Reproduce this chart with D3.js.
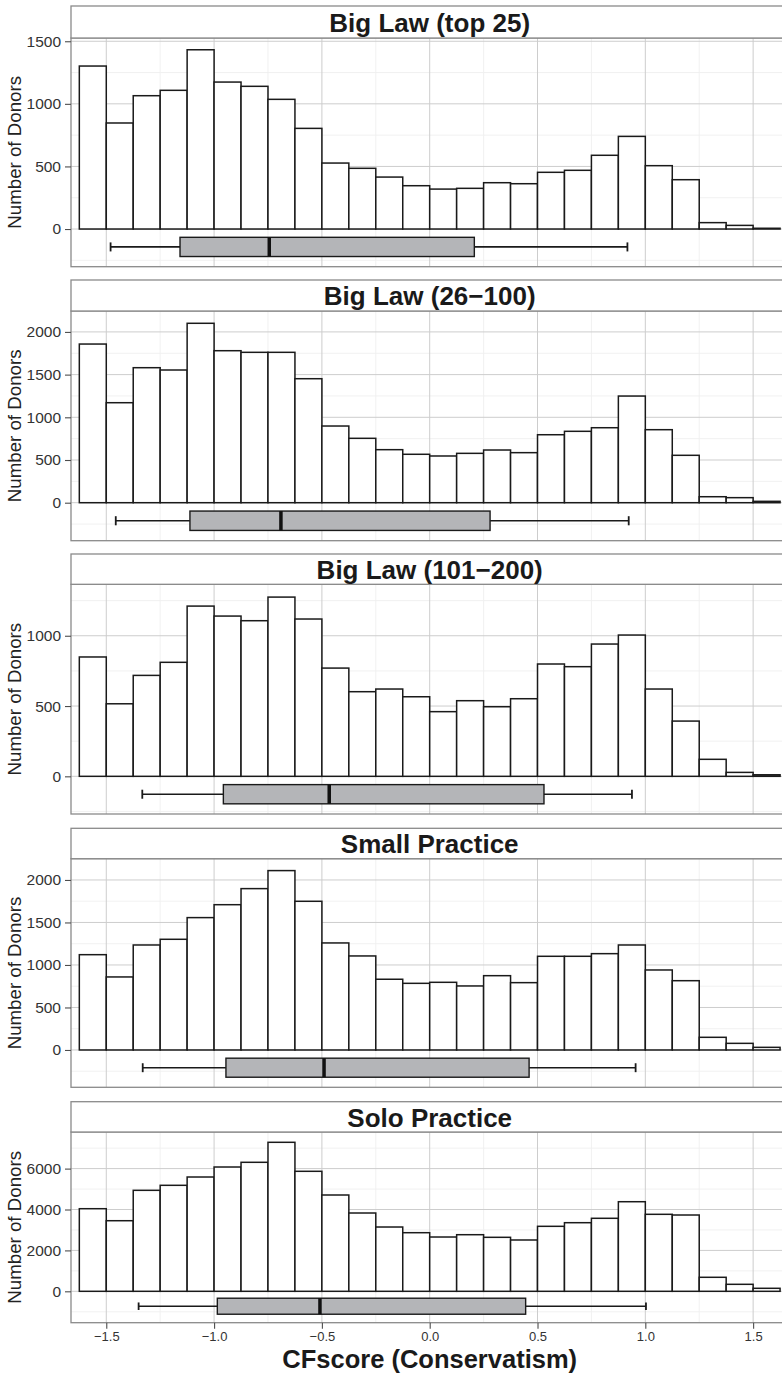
<!DOCTYPE html>
<html lang="en">
<head>
<meta charset="utf-8">
<title>CFscore by firm type</title>
<style>
  body { margin: 0; background: #fff; }
  svg { display: block; font-family: "Liberation Sans", Arial, Helvetica, sans-serif; }
</style>
</head>
<body>
<svg id="chart" width="782" height="1374"></svg>
<script src="https://d3js.org/d3.v7.min.js"></script>
<script>
// bins are 0.125 wide, starting at -1.625
const binStart = -1.625;
const binWidth = 0.125;

const panelNames = ["Big Law (top 25)", "Big Law (26\u2212100)", "Big Law (101\u2212200)", "Small Practice", "Solo Practice"];

const countsTop25 = [1302, 847, 1065, 1108, 1432, 1174, 1140, 1036, 804, 527, 485, 415, 346,
                     319, 325, 370, 362, 453, 469, 589, 740, 506, 394, 51, 29, 6];
const counts26to100 = [1858, 1171, 1581, 1554, 2101, 1780, 1761, 1761, 1452, 898, 754, 621, 567,
                       547, 578, 617, 586, 796, 836, 878, 1249, 855, 555, 70, 59, 16];
const counts101to200 = [849, 516, 718, 811, 1211, 1140, 1107, 1275, 1119, 770, 602, 621, 566,
                        460, 538, 495, 552, 799, 780, 941, 1005, 621, 393, 121, 28, 11];
const countsSmall = [1121, 859, 1235, 1302, 1557, 1709, 1898, 2110, 1749, 1259, 1106, 832, 784,
                     796, 753, 874, 792, 1102, 1102, 1133, 1235, 941, 815, 149, 78, 31];
const countsSolo = [4039, 3452, 4938, 5183, 5589, 6078, 6308, 7286, 5868, 4709, 3829, 3144, 2866,
                    2655, 2768, 2640, 2509, 3178, 3355, 3570, 4381, 3765, 3731, 685, 342, 147];

// boxplot stats: [whisker low, q1, median, q3, whisker high]
const boxTop25 = [-1.48, -1.158, -0.744, 0.207, 0.917];
const box26to100 = [-1.456, -1.112, -0.690, 0.280, 0.923];
const box101to200 = [-1.333, -0.957, -0.466, 0.530, 0.938];
const boxSmall = [-1.331, -0.945, -0.490, 0.461, 0.955];
const boxSolo = [-1.350, -0.985, -0.509, 0.445, 1.003];

// y domains per panel (low end holds the boxplot)
const yDomains = [[-301, 1526], [-445, 2245], [-268, 1366], [-439, 2250], [-1535, 7790]];
const yMajor = [[0, 500, 1000, 1500], [0, 500, 1000, 1500, 2000], [0, 500, 1000],
                [0, 500, 1000, 1500, 2000], [0, 2000, 4000, 6000]];
const yMinor = [[-250, 250, 750, 1250], [-250, 250, 750, 1250, 1750], [-250, 250, 750, 1250],
                [-250, 250, 750, 1250, 1750], [-1000, 1000, 3000, 5000, 7000]];

const xMajor = [-1.5, -1.0, -0.5, 0.0, 0.5, 1.0, 1.5];
const xMinor = [-1.25, -0.75, -0.25, 0.25, 0.75, 1.25];
const xTickLabels = ["\u22121.5", "\u22121.0", "\u22120.5", "0.0", "0.5", "1.0", "1.5"];

const allCounts = [countsTop25, counts26to100, counts101to200, countsSmall, countsSolo];
const allBoxes = [boxTop25, box26to100, box101to200, boxSmall, boxSolo];

// layout: [strip top, panel top, panel bottom]
const layout = [[6, 38, 266.7], [280, 311, 540.7], [554, 584.3, 814],
                [828.3, 858.7, 1087.3], [1101.7, 1132, 1322.7]];

const svg = d3.select("#chart");
const left = 71, right = 788.4;
const x = d3.scaleLinear().domain([-1.6636, 1.6636]).range([left, right]);

const borderCol = "#8a8a8a";

allCounts.forEach((counts, p) => {
  const [stripTop, top, bottom] = layout[p];
  const y = d3.scaleLinear().domain(yDomains[p]).range([bottom, top]);
  const g = svg.append("g");

  // grid
  g.selectAll(".ymin").data(yMinor[p].filter(v => y(v) > top && y(v) < bottom)).enter()
    .append("line").attr("x1", left).attr("x2", right)
    .attr("y1", d => y(d)).attr("y2", d => y(d))
    .attr("stroke", "#efefef").attr("stroke-width", 0.9);
  g.selectAll(".xmin").data(xMinor).enter()
    .append("line").attr("x1", d => x(d)).attr("x2", d => x(d))
    .attr("y1", top).attr("y2", bottom)
    .attr("stroke", "#efefef").attr("stroke-width", 0.9);
  g.selectAll(".ymaj").data(yMajor[p]).enter()
    .append("line").attr("x1", left).attr("x2", right)
    .attr("y1", d => y(d)).attr("y2", d => y(d))
    .attr("stroke", "#cdcdcd").attr("stroke-width", 1);
  g.selectAll(".xmaj").data(xMajor).enter()
    .append("line").attr("x1", d => x(d)).attr("x2", d => x(d))
    .attr("y1", top).attr("y2", bottom)
    .attr("stroke", "#cdcdcd").attr("stroke-width", 1);

  // histogram bars
  g.selectAll(".bar").data(counts).enter()
    .append("rect")
    .attr("x", (d, i) => x(binStart + i * binWidth))
    .attr("width", x(binWidth) - x(0))
    .attr("y", d => y(d))
    .attr("height", d => y(0) - y(d))
    .attr("fill", "#fff")
    .attr("stroke", "#1a1a1a")
    .attr("stroke-width", 1.5);

  // boxplot
  const b = allBoxes[p];
  const lo = yDomains[p][0];
  const bc = lo * 0.475, bh = -lo * 0.255, cap = bh * 0.47;
  g.append("line").attr("x1", x(b[0])).attr("x2", x(b[1]))
    .attr("y1", y(bc)).attr("y2", y(bc)).attr("stroke", "#1a1a1a").attr("stroke-width", 1.6);
  g.append("line").attr("x1", x(b[3])).attr("x2", x(b[4]))
    .attr("y1", y(bc)).attr("y2", y(bc)).attr("stroke", "#1a1a1a").attr("stroke-width", 1.6);
  [b[0], b[4]].forEach(v => {
    g.append("line").attr("x1", x(v)).attr("x2", x(v))
      .attr("y1", y(bc + cap)).attr("y2", y(bc - cap))
      .attr("stroke", "#1a1a1a").attr("stroke-width", 1.8);
  });
  g.append("rect").attr("x", x(b[1])).attr("width", x(b[3]) - x(b[1]))
    .attr("y", y(bc + bh)).attr("height", y(bc - bh) - y(bc + bh))
    .attr("fill", "#b4b5b8").attr("stroke", "#1a1a1a").attr("stroke-width", 1.4);
  g.append("line").attr("x1", x(b[2])).attr("x2", x(b[2]))
    .attr("y1", y(bc + bh)).attr("y2", y(bc - bh))
    .attr("stroke", "#111").attr("stroke-width", 3.5);

  // panel border + strip
  g.append("rect").attr("x", left).attr("y", top).attr("width", right - left).attr("height", bottom - top)
    .attr("fill", "none").attr("stroke", borderCol).attr("stroke-width", 1.3);
  g.append("rect").attr("x", left).attr("y", stripTop).attr("width", right - left).attr("height", top - stripTop)
    .attr("fill", "#fff").attr("stroke", borderCol).attr("stroke-width", 1.3);
  g.append("text").attr("x", x(0)).attr("y", (stripTop + top) / 2 + 9.8)
    .attr("text-anchor", "middle").attr("font-size", 26).attr("font-weight", "bold")
    .attr("fill", "#1a1a1a").text(panelNames[p]);

  // y axis
  const yAxis = d3.axisLeft(y).tickValues(yMajor[p]).tickSize(6).tickPadding(4).tickFormat(d3.format("d"));
  const ya = g.append("g").attr("transform", `translate(${left},0)`).call(yAxis);
  ya.select(".domain").remove();
  ya.selectAll("line").attr("stroke", "#4d4d4d").attr("stroke-width", 1.1);
  ya.selectAll("text").attr("font-size", 15.5).attr("fill", "#333")
    .attr("font-family", "\"Liberation Sans\", Arial, sans-serif");

  g.append("text")
    .attr("transform", `translate(20.5,${(top + bottom) / 2}) rotate(-90)`)
    .attr("text-anchor", "middle").attr("font-size", 18.7).attr("fill", "#222")
    .text("Number of Donors");

  if (p === allCounts.length - 1) {
    const xAxis = d3.axisBottom(x).tickValues(xMajor).tickSize(6).tickPadding(3)
      .tickFormat((d, i) => xTickLabels[i]);
    const xa = g.append("g").attr("transform", `translate(0,${bottom})`).call(xAxis);
    xa.select(".domain").remove();
    xa.selectAll("line").attr("stroke", "#4d4d4d").attr("stroke-width", 1.1);
    xa.selectAll("text").attr("font-size", 13).attr("fill", "#333")
      .attr("font-family", "\"Liberation Sans\", Arial, sans-serif");
    g.append("text").attr("x", x(0)).attr("y", 1368)
      .attr("text-anchor", "middle").attr("font-size", 25.5).attr("font-weight", "bold")
      .attr("fill", "#1a1a1a").text("CFscore (Conservatism)");
  }
});
</script>
</body>
</html>
